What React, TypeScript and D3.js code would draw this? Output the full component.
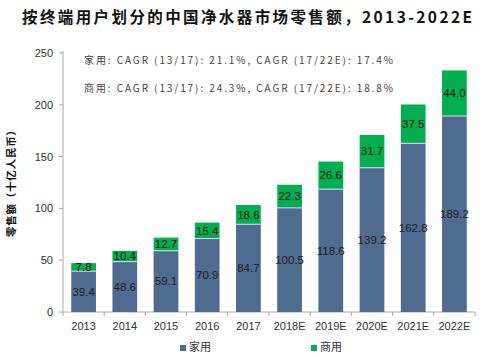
import React from "react";
import * as d3 from "d3";

const years = ["2013", "2014", "2015", "2016", "2017", "2018E", "2019E", "2020E", "2021E", "2022E"];
const household = [39.4, 48.6, 59.1, 70.9, 84.7, 100.5, 118.6, 139.2, 162.8, 189.2];
const commercial = [7.8, 10.4, 12.7, 15.4, 18.6, 22.3, 26.6, 31.7, 37.5, 44.0];
const yTicks = [0, 50, 100, 150, 200, 250];
const seriesNames = ["家用", "商用"];
const colors = ["#4F6B90", "#00B050"];
const title = "按终端用户划分的中国净水器市场零售额，2013-2022E";
const notes = [
  "家用: CAGR (13/17): 21.1%, CAGR (17/22E): 17.4%",
  "商用: CAGR (13/17): 24.3%, CAGR (17/22E): 18.8%",
];
const yLabel = "零售额（十亿人民币）";

export default function App() {
  const W = 500, H = 361;
  const left = 63, right = 475, top = 53, bottom = 312;
  const x = d3.scaleBand<string>().domain(years).range([left, right]).paddingInner(0.4).paddingOuter(0.2);
  const y = d3.scaleLinear().domain([0, 250]).range([bottom, top]);
  const font = "Arial, 'Liberation Sans', sans-serif";
  const cjk = "'Noto Sans CJK SC', sans-serif";
  const step = x.step();
  const bw = x.bandwidth();

  return (
    <svg width={W} height={H} style={{ position: "absolute", left: 0, top: 0, background: "#fff" }}>
      <text x={22} y={23} fontFamily={cjk} fontWeight="bold" fontSize={15.5} fill="#111" textLength={450} lengthAdjust="spacing">{title}</text>
      {notes.map((n, i) => (
        <text key={i} x={84} y={64 + i * 28} fontFamily={cjk} fontSize={10} fill="#444" textLength={309} lengthAdjust="spacing">{n}</text>
      ))}
      <text transform={`translate(15,181) rotate(-90)`} textAnchor="middle" fontFamily={cjk} fontWeight="bold" fontSize={10.5} fill="#111" textLength={112} lengthAdjust="spacing">{yLabel}</text>
      {/* axes */}
      <line x1={left} x2={left} y1={top - 2} y2={bottom} stroke="#aaa" strokeWidth={1} />
      <line x1={left} x2={right} y1={bottom} y2={bottom} stroke="#aaa" strokeWidth={1} />
      {yTicks.map((t) => (
        <g key={t}>
          <line x1={left - 4} x2={left} y1={y(t)} y2={y(t)} stroke="#aaa" />
          <text x={left - 10} y={y(t) + 4} textAnchor="end" fontFamily={font} fontSize={11} fill="#333">{t}</text>
        </g>
      ))}
      {years.map((yr, i) => (
        <line key={"xt" + yr} x1={left + i * step} x2={left + i * step} y1={bottom} y2={bottom + 4} stroke="#aaa" />
      ))}
      <line x1={right} x2={right} y1={bottom} y2={bottom + 4} stroke="#aaa" />
      {years.map((yr, i) => {
        const bx = x(yr)!;
        const h0 = household[i];
        const c0 = commercial[i];
        return (
          <g key={yr}>
            <rect x={bx} y={y(h0)} width={bw} height={y(0) - y(h0)} fill={colors[0]} />
            <rect x={bx} y={y(h0 + c0)} width={bw} height={y(h0) - y(h0 + c0)} fill={colors[1]} />
            <line x1={bx} x2={bx + bw} y1={y(h0)} y2={y(h0)} stroke="#dde" strokeWidth={1} />
            <text x={bx + bw / 2} y={y(h0 / 2) + 4} textAnchor="middle" fontFamily={font} fontSize={11.5} fill="#222">{h0.toFixed(1)}</text>
            <text x={bx + bw / 2} y={y(h0 + c0 / 2) + 4} textAnchor="middle" fontFamily={font} fontSize={11.5} fill="#111">{c0.toFixed(1)}</text>
            <text x={bx + bw / 2} y={bottom + 18} textAnchor="middle" fontFamily={font} fontSize={11} fill="#333">{yr}</text>
          </g>
        );
      })}
      {seriesNames.map((s, i) => (
        <g key={s} transform={`translate(180,${351})`}>
          <rect x={i * 131} y={-6} width={6} height={6} fill={colors[i]} />
          <text x={i * 131 + 9} y={0} fontFamily={cjk} fontSize={11} fill="#333">{s}</text>
        </g>
      ))}
    </svg>
  );
}
